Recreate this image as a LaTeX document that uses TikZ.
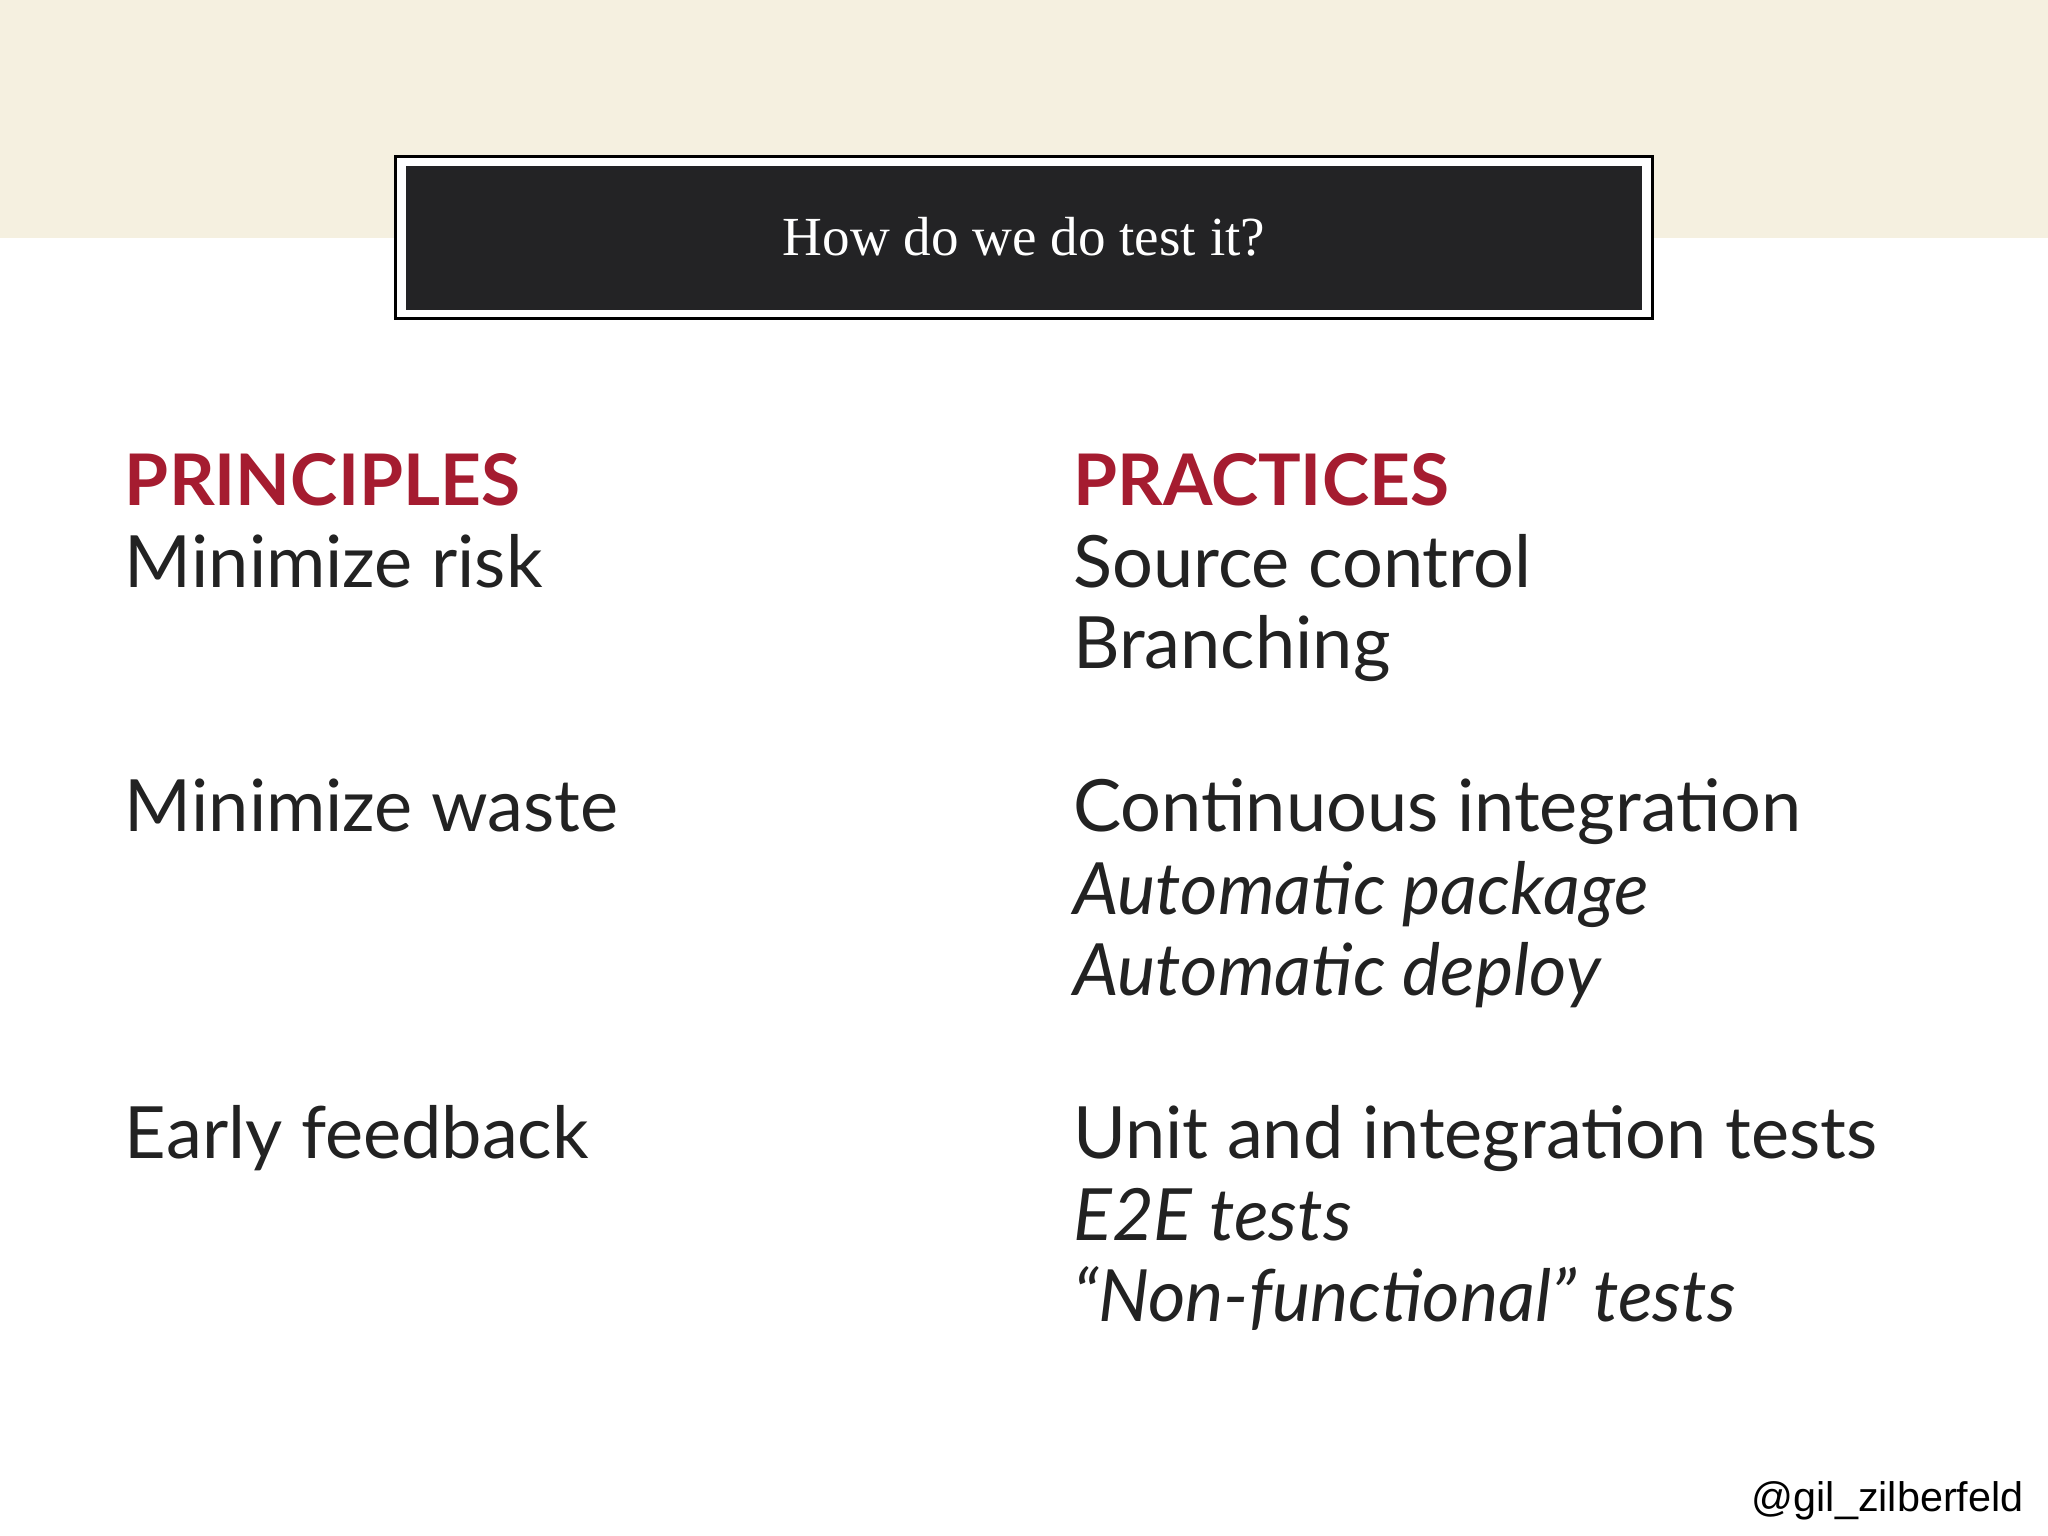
\documentclass[tikz,border=0pt]{standalone}
\usepackage{fontspec}
\setmainfont{Lato}
\newfontfamily\titlefont{Liberation Serif}
\definecolor{beige}{HTML}{F5F0E0}
\definecolor{dark}{HTML}{232325}
\definecolor{redh}{HTML}{A51C30}
\definecolor{txt}{HTML}{222222}
\tikzset{
 body/.style={anchor=base west,inner sep=0pt,text=txt,font=\fontsize{15.7}{19}\selectfont},
 head/.style={body,text=redh,font=\fontsize{15.5}{19}\selectfont\bfseries},
 ital/.style={body,font=\fontsize{15.7}{19}\selectfont\itshape}
}
\begin{document}
\begin{tikzpicture}[x=0.01cm,y=-0.01cm]
\useasboundingbox (0,0) rectangle (1568,1176);
\fill[white] (0,0) rectangle (1568,1176);
\fill[beige] (0,0) rectangle (1568,182);
\draw[fill=white,line width=0.6pt] (303,120) rectangle (1265,244);
\fill[dark] (311,127) rectangle (1257,237);
\node[text=white,font=\titlefont\fontsize{12}{14}\selectfont] (title) at (784,181) {How do we do test it?};
\node[head] (p) at (95,387) {PRINCIPLES};
\node[body] (p1) at (95,450) {Minimize risk};
\node[body] (p2) at (95,637) {Minimize waste};
\node[body] (p3) at (95,887) {Early feedback};
\node[head] (q) at (821,387) {PRACTICES};
\node[body] (q1) at (821,450) {Source control};
\node[body] (q2) at (821,512) {Branching};
\node[body] (q3) at (821,637) {Continuous integration};
\node[ital] (q4) at (821,700) {Automatic package};
\node[ital] (q5) at (821,762) {Automatic deploy};
\node[body] (q6) at (821,887) {Unit and integration tests};
\node[ital] (q7) at (821,950) {E2E tests};
\node[ital] (q8) at (821,1012) {“Non-functional” tests};
\node[anchor=base east,inner sep=0pt,font=\fontspec{Liberation Sans}\fontsize{9}{11}\selectfont] (w) at (1550,1157) {@gil\_zilberfeld};
\end{tikzpicture}
\end{document}
